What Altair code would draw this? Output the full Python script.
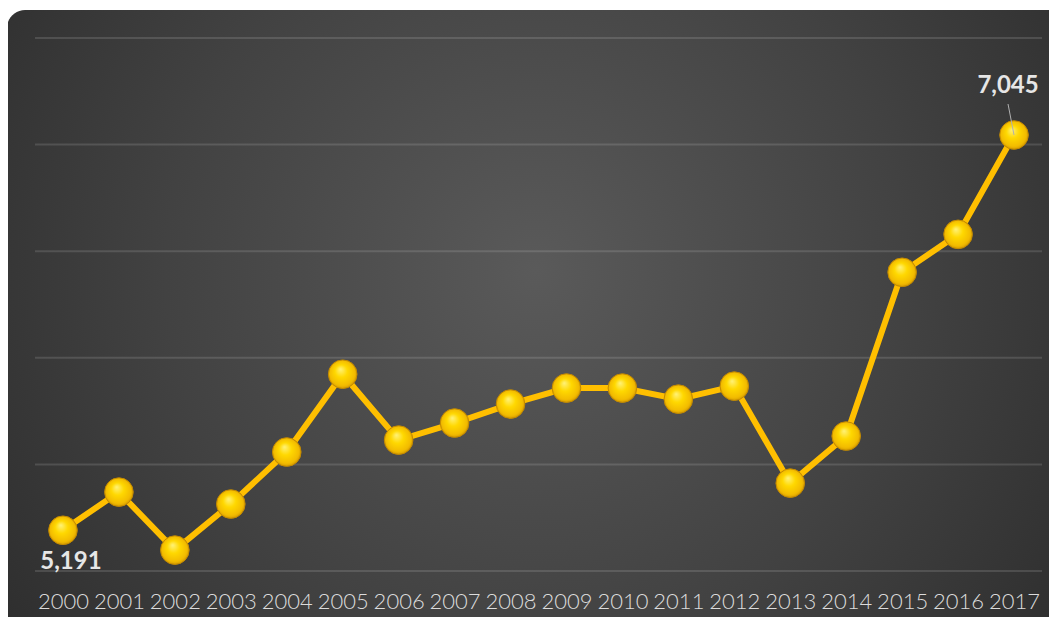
import altair as alt
import pandas as pd

years = [str(y) for y in range(2000, 2018)]
values = [5191, 5370, 5098, 5314, 5558, 5923, 5614, 5694, 5783, 5858,
          5858, 5806, 5867, 5412, 5633, 6401, 6579, 7045]
grid_values = [5000, 5500, 6000, 6500, 7000, 7500]

df = pd.DataFrame({"year": years, "value": values})
grid_df = pd.DataFrame({"g": grid_values})
first = df.iloc[[0]].assign(label=["5,191"])
last = df.iloc[[-1]].assign(label=["7,045"])

W, H = 1007, 533

yscale = alt.Scale(domain=[5000, 7500], nice=False, zero=False)
x_enc = alt.X("year:O", scale=alt.Scale(type="point", padding=0.5),
              axis=alt.Axis(title=None, labelAngle=0, domain=False, ticks=False,
                            labelPadding=20, labelFont="Lato", labelFontSize=22,
                            labelFontWeight=300,
                            labelColor="#dcdcdc", grid=False, zindex=1))
y_enc = alt.Y("value:Q", scale=yscale, axis=None)

panel = alt.Chart(df.iloc[[0]]).mark_rect(
    cornerRadius=18,
    color=alt.Gradient(gradient="radial",
                       stops=[alt.GradientStop(color="#5a5a5a", offset=0),
                              alt.GradientStop(color="#424242", offset=0.5),
                              alt.GradientStop(color="#272727", offset=1)],
                       x1=0.5, y1=0.45, r1=0, x2=0.5, y2=0.45, r2=0.7),
).encode(x=alt.value(-28), x2=alt.value(1030), y=alt.value(-28), y2=alt.value(600))

grid = alt.Chart(grid_df).mark_rule(color="#ffffff", opacity=0.13, strokeWidth=2).encode(
    y=alt.Y("g:Q", scale=yscale, axis=None), x=alt.value(0), x2=alt.value(W))

base = alt.Chart(df).encode(x=x_enc, y=y_enc)

line = base.mark_line(color="#ffbf00", strokeWidth=6)

pts = base.mark_point(
    shape="circle", size=820, filled=True, opacity=1,
    stroke="#c48a00", strokeWidth=1,
    fill=alt.Gradient(gradient="radial",
                      stops=[alt.GradientStop(color="#fff27a", offset=0),
                             alt.GradientStop(color="#ffd800", offset=0.4),
                             alt.GradientStop(color="#f2bb00", offset=0.8),
                             alt.GradientStop(color="#c48a00", offset=1)],
                      x1=0.42, y1=0.32, r1=0, x2=0.5, y2=0.5, r2=0.55),
)

lab_first = alt.Chart(first).mark_text(
    font="Lato", fontSize=24, fontWeight="bold", color="#e6e6e6",
    dx=8, dy=32).encode(x=x_enc, y=y_enc, text="label:N")

lab_last = alt.Chart(last).mark_text(
    font="Lato", fontSize=24, fontWeight="bold", color="#e6e6e6",
    dx=-6, dy=-49).encode(x=x_enc, y=y_enc, text="label:N")

leader = alt.Chart(last).mark_rule(color="#b0b0b0", strokeWidth=1, x2Offset=-6).encode(
    x=x_enc, x2="year:O", y=y_enc, y2=alt.value(66))

chart = alt.layer(panel, grid, line, pts, leader, lab_first, lab_last).properties(
    width=W, height=H,
    autosize=alt.AutoSizeParams(type="none"),
    padding={"left": 27, "top": 30, "right": 7, "bottom": 46},
    background="#ffffff",
).configure_view(stroke=None)

chart.save("out.html", embed_options={"renderer": "svg", "actions": False})
